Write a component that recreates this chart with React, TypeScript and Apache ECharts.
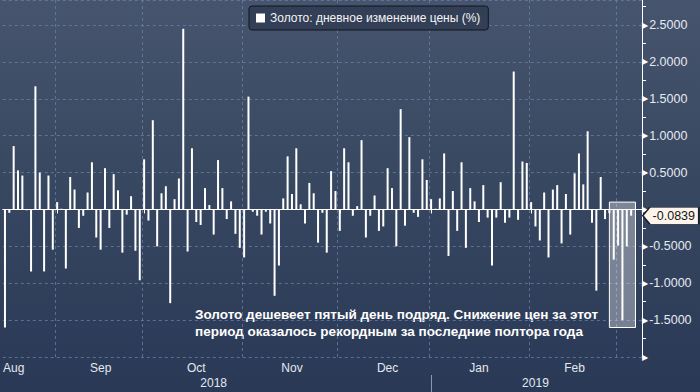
import React, { useEffect, useRef } from 'react';
import * as echarts from 'echarts';

// Trading days (weekdays) covered by the chart
const firstDay = '2018-08-16';
const lastDay = '2019-03-06';

function weekdays(start: string, end: string): string[] {
  const out: string[] = [];
  const d = new Date(start + 'T00:00:00Z');
  const e = new Date(end + 'T00:00:00Z');
  while (d.getTime() <= e.getTime()) {
    const wd = d.getUTCDay();
    if (wd !== 0 && wd !== 6) out.push(d.toISOString().slice(0, 10));
    d.setUTCDate(d.getUTCDate() + 1);
  }
  return out;
}

const dates = weekdays(firstDay, lastDay);

// Gold: daily price change (%)
const changes = [
  // Aug
  -1.60, -0.045, 0.86, 0.53, 0.46, -0.01, -0.84, 1.67, 0.50, -0.84, 0.46, -0.545,
  // Sep
  0.10, 0.01, -0.80, 0.44, 0.27, -0.25, -0.085, 0.23, 0.64, -0.38,
  -0.545, 0.56, -0.25, 0.48, 0.26, -0.585, -0.07, 0.18, -0.56, -0.96,
  // Oct
  0.68, -0.15, 1.21, -0.50, 0.22, 0.315, -1.27, 0.14, 0.42, 2.45, -0.57, 0.83,
  -0.17, -0.21, 0.29, 0.06, -0.34, 0.67, 0.29, -0.13, 0.11, -0.33, -0.52,
  // Nov
  -0.65, 1.53, -0.03, -0.085, -0.34, -0.03, -0.19, -1.17, -0.76, 0.15, 0.72,
  0.21, 0.83, 0.07, -0.19, 0.36, 0.22, -0.45, -0.045, -0.585, 0.52, 0.25,
  // Dec
  -0.29, 0.83, 0.64, -0.085, 0.045, 0.94, -0.38, -0.085, 0.19, -0.29, -0.23,
  0.56, 0.29, -0.50, 1.36, -0.22, 0.98, -0.045, -0.10, 0.68, 0.40,
  // Jan
  0.14, 0.01, 0.15, 0.76, -0.63, 0.25, -0.29, 0.64, -0.52, 0.29, 0.11, -0.17,
  0.33, -0.11, -0.76, -0.11, 0.37, -0.18, -0.11, 1.87, -0.14, 0.65, 0.63,
  // Feb
  0.10, -0.23, -0.42, 0.23, -0.65, 0.27, 0.33, -0.46, 0.21, -0.34, 0.49, 0.76,
  0.34, 1.06, -0.18, -1.10, 0.44, -0.13, -0.05, -0.68,
  // Mar
  -0.49, -1.50, -0.50, -0.0839,
];

const seriesName = 'Золото: дневное изменение цены (%)';
const noteLines = [
  'Золото дешевеет пятый день подряд. Снижение цен за этот',
  'период оказалось рекордным за последние полтора года',
];

const monthLabelIdx = [2, 22, 44, 66, 88, 109, 131];
const monthLabels = ['Aug', 'Sep', 'Oct', 'Nov', 'Dec', 'Jan', 'Feb'];
const yearLabelIdx = [48, 122];
const yearLabels = ['2018', '2019'];

const yMin = -2;
const yMax = 2.84;
const yInterval = 0.5;

// highlighted streak (category index range and value range of the box)
const boxFromIdx = 139;
const boxToIdx = 145;
const boxTop = 0.1;
const boxBottom = -1.6;

const padCats = ['pad-1', 'pad-2'];

export default function App() {
  const ref = useRef<HTMLDivElement>(null);

  useEffect(() => {
    if (!ref.current) return;
    const chart = echarts.init(ref.current, undefined, { renderer: 'svg' });
    const cats = dates.concat(padCats);
    const monthStarts = new Set<number>();
    dates.forEach((d, i) => {
      if (i > 0 && d.slice(0, 7) !== dates[i - 1].slice(0, 7)) monthStarts.add(i);
    });
    const yearStarts = new Set<number>();
    dates.forEach((d, i) => {
      if (i > 0 && d.slice(0, 4) !== dates[i - 1].slice(0, 4)) yearStarts.add(i);
    });
    const lastVal = changes[changes.length - 1];
    const font = 'Liberation Sans, Arial, sans-serif';
    const grid = 'rgba(105,130,165,0.75)';
    const noteFont = 'bold 13.5px Liberation Sans, Arial, sans-serif';

    chart.setOption({
      animation: false,
      backgroundColor: 'transparent',
      textStyle: { fontFamily: font },
      grid: { left: -1, right: 58, top: 0, bottom: 35, containLabel: false },
      legend: {
        show: true,
        data: [seriesName],
        left: 249,
        top: 6,
        icon: 'rect',
        itemWidth: 9,
        itemHeight: 9,
        itemGap: 6,
        padding: [6, 8, 6, 7],
        backgroundColor: '#333f56',
        borderColor: '#12161f',
        borderWidth: 1,
        borderRadius: 3,
        textStyle: { color: '#f4f4f4', fontSize: 12, fontFamily: font },
      },
      xAxis: [
        {
          type: 'category',
          data: cats,
          position: 'bottom',
          axisLine: { show: true, lineStyle: { color: '#ffffff', width: 1 } },
          axisTick: {
            show: true,
            alignWithLabel: true,
            length: 4,
            interval: (i: number) => monthStarts.has(i),
            lineStyle: { color: '#ffffff' },
          },
          splitLine: {
            show: true,
            interval: (i: number) => monthStarts.has(i),
            lineStyle: { color: grid, type: [3, 3], width: 1 },
          },
          axisLabel: {
            show: true,
            interval: (i: number) => monthLabelIdx.indexOf(i) >= 0,
            formatter: (_v: string, i: number) => {
              const k = monthLabelIdx.indexOf(i);
              return k >= 0 ? monthLabels[k] : '';
            },
            color: '#e4e9f1',
            fontSize: 12,
            margin: 5,
          },
        },
        {
          type: 'category',
          data: cats,
          position: 'bottom',
          offset: 18,
          axisLine: { show: false },
          axisTick: {
            show: true,
            alignWithLabel: true,
            length: 17,
            interval: (i: number) => yearStarts.has(i),
            lineStyle: { color: '#8a97ad' },
          },
          splitLine: { show: false },
          axisLabel: {
            show: true,
            interval: (i: number) => yearLabelIdx.indexOf(i) >= 0,
            formatter: (_v: string, i: number) => {
              const k = yearLabelIdx.indexOf(i);
              return k >= 0 ? yearLabels[k] : '';
            },
            color: '#e4e9f1',
            fontSize: 12,
            margin: 2,
          },
        },
      ],
      yAxis: {
        type: 'value',
        position: 'right',
        min: yMin,
        max: yMax,
        interval: yInterval,
        axisLine: { show: true, lineStyle: { color: '#ffffff', width: 1 } },
        axisTick: { show: false },
        minorTick: { show: true, splitNumber: 2, length: 4, lineStyle: { color: '#ffffff' } },
        splitLine: { show: true, lineStyle: { color: grid, type: [3, 3], width: 1 } },
        axisLabel: {
          show: true,
          showMaxLabel: false,
          margin: 0,
          formatter: (v: number) =>
            v === yMin || v === 0 ? '{t|▶}' : '{t|▶}{v|' + v.toFixed(4) + '}',
          rich: {
            t: { fontSize: 8, color: '#ffffff', fontFamily: 'DejaVu Sans' },
            v: { fontSize: 12.5, color: '#e6eaf1', padding: [0, 0, 0, 1], fontFamily: font },
          },
        },
      },
      series: [
        {
          name: seriesName,
          type: 'bar',
          data: changes,
          barWidth: 2,
          itemStyle: { color: '#ffffff' },
        },
        {
          name: 'annotations',
          type: 'line',
          data: [],
          silent: true,
          markArea: {
            silent: true,
            itemStyle: { color: 'rgba(255,255,255,0.35)', borderColor: '#ffffff', borderWidth: 1 },
            data: [[
              { xAxis: cats[boxFromIdx], yAxis: boxTop },
              { xAxis: cats[boxToIdx], yAxis: boxBottom },
            ]],
          },
          markPoint: {
            silent: true,
            symbol: 'path://M0,9L7,0L56,0L56,18L7,18Z',
            symbolSize: [56, 17],
            symbolKeepAspect: false,
            symbolOffset: [31, 0],
            itemStyle: { color: '#fdf5ec', borderColor: '#1a1e26', borderWidth: 1 },
            label: {
              show: true,
              position: 'inside',
              offset: [3, 0],
              color: '#161616',
              fontSize: 12.5,
              fontFamily: font,
              formatter: (p: any) => Number(p.value).toFixed(4),
            },
            data: [{ coord: [cats[cats.length - 1], lastVal], value: lastVal }],
          },
        },
      ],
      graphic: [
        {
          type: 'text',
          x: 195,
          y: 307,
          silent: true,
          style: { text: noteLines[0], fill: '#ffffff', font: noteFont, textVerticalAlign: 'top' },
        },
        {
          type: 'text',
          x: 195,
          y: 324,
          silent: true,
          style: { text: noteLines[1], fill: '#ffffff', font: noteFont, textVerticalAlign: 'top' },
        },
      ],
    });
    return () => chart.dispose();
  }, []);

  return (
    <div
      style={{
        position: 'fixed',
        left: 0,
        top: 0,
        width: 700,
        height: 392,
        background: 'linear-gradient(to bottom, #46546e 0%, #394861 45%, #2d3c58 85%, #2a3956 100%)',
      }}
    >
      <div ref={ref} style={{ width: 700, height: 392 }} />
    </div>
  );
}
